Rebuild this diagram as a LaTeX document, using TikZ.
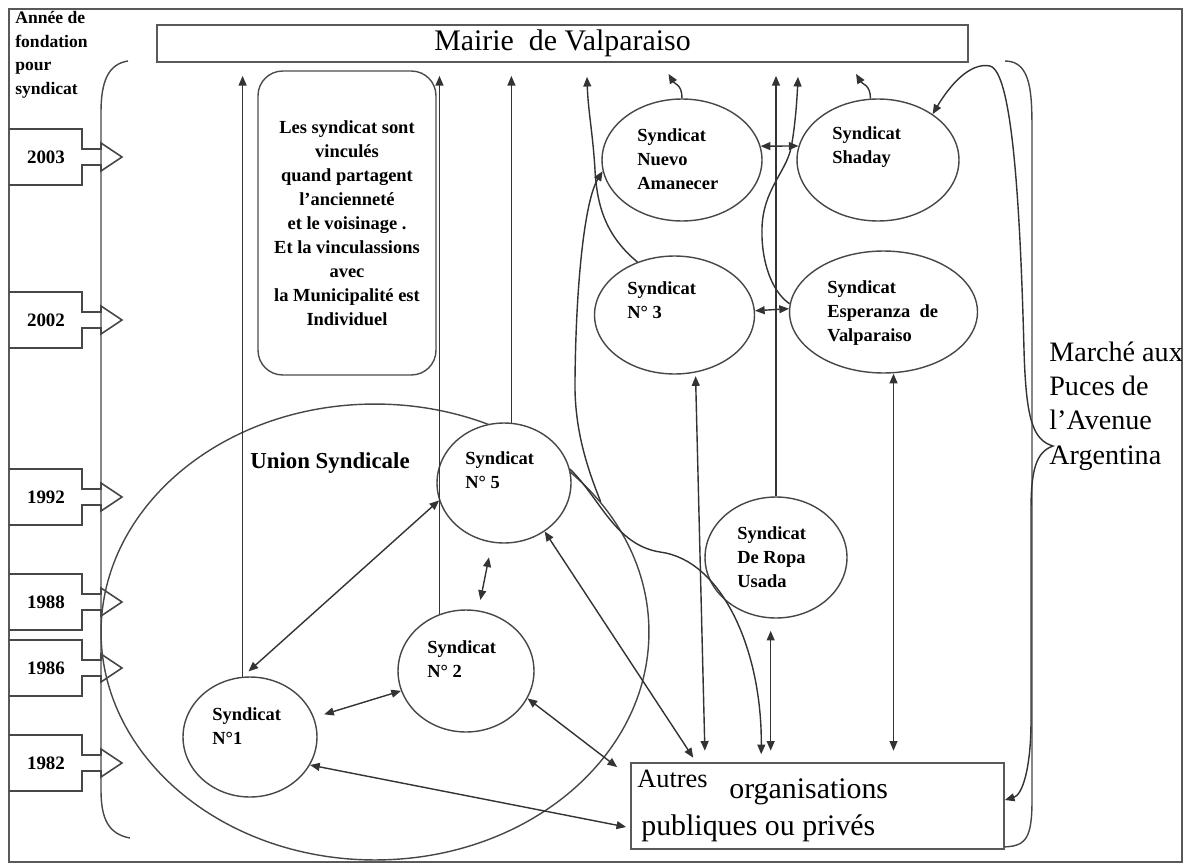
\documentclass[tikz,border=0pt]{standalone}
\usepackage{fontspec}
\setmainfont{Liberation Serif}
\usetikzlibrary{arrows.meta,calc,shapes.geometric}
\begin{document}
\begin{tikzpicture}[x=0.02cm,y=-0.02cm,
  ln/.style={draw=black!72, line width=0.8pt},
  conn/.style={draw=black!80, line width=0.8pt},
  >={Triangle[length=5.5pt,width=4.5pt]},
  syn/.style={ellipse, ln, fill=white, inner sep=0pt},
  lbl/.style={anchor=west, align=left, inner sep=0pt, font=\fontsize{10.5}{13.7}\selectfont\bfseries},
  yrlbl/.style={inner sep=0pt, font=\fontsize{10.8}{13}\selectfont\bfseries},
  callout/.style={draw=black!72, line width=0.9pt},
  upto/.style={conn, ->, shorten >=7.4pt},
]
\useasboundingbox (0,0) rectangle (1186,865);
\draw[draw=black!65, line width=1.5pt] (9,9) rectangle (1182,862);

% title text top-left
\node[anchor=west, align=left, inner sep=0pt, font=\fontsize{10}{13.4}\selectfont\bfseries] (annee) at (15,55) {Année de\\fondation\\pour\\syndicat};

% Mairie
\node[draw=black!65, line width=1pt, minimum width=16.22cm, minimum height=0.74cm, inner sep=0pt, font=\fontsize{17}{20}\selectfont] (mairie) at (562.5,43.5) {Mairie\ \ de Valparaiso};

% left brace
\draw[ln] (128,61) .. controls (108,64) and (101,82) .. (101,112) -- (101,790) .. controls (101,818) and (108,834) .. (130,838);

% year callouts
\foreach \yr/\c in {2003/157,2002/320,1992/497,1988/602,1986/668,1982/763}{
  \draw[callout] (9,{\c-28}) -- (82,{\c-28}) -- (82,{\c-8}) -- (101,{\c-8}) -- (101,{\c-14}) -- (122,\c) -- (101,{\c+14}) -- (101,{\c+8}) -- (82,{\c+8}) -- (82,{\c+28}) -- (9,{\c+28});
  \node[yrlbl] (y\yr) at (46,\c) {\yr};
}

% Union Syndicale
\node[ellipse, ln, minimum width=10.96cm, minimum height=9.12cm, inner sep=0pt] (union) at (375,632) {};
\node[inner sep=0pt, font=\fontsize{13}{15}\selectfont\bfseries] (unionlbl) at (330,463) {Union Syndicale};

% note box
\node[draw=black!70, line width=0.8pt, rounded corners=14pt, minimum width=3.56cm, minimum height=6.08cm, inner sep=0pt, align=center, font=\fontsize{10.5}{13.7}\selectfont\bfseries] (note) at (347,223) {Les syndicat sont\\vinculés\\quand partagent\\l’ancienneté\\et le voisinage .\\Et la vinculassions\\avec\\la Municipalité est\\Individuel};

% syndicat ellipses
\node[syn, minimum width=2.68cm, minimum height=2.4cm] (N1) at (250,737) {};
\node[lbl] (N1t) at (212,726) {Syndicat\\N°1};
\node[syn, minimum width=2.72cm, minimum height=2.44cm] (N2) at (466,671) {};
\node[lbl] (N2t) at (427,659) {Syndicat\\N° 2};
\node[syn, minimum width=2.68cm, minimum height=2.4cm] (N5) at (504,483) {};
\node[lbl] (N5t) at (465,470) {Syndicat\\N° 5};
\node[syn, minimum width=3.2cm, minimum height=2.44cm] (NA) at (682,160) {};
\node[lbl] (NAt) at (637,159) {Syndicat\\Nuevo\\Amanecer};
\node[syn, minimum width=3.24cm, minimum height=2.44cm] (Sh) at (878,160) {};
\node[lbl] (Sht) at (832,147) {Syndicat\\Shaday};
\node[syn, minimum width=3.2cm, minimum height=2.36cm] (N3) at (674.5,315) {};
\node[lbl] (N3t) at (627,300) {Syndicat\\N° 3};
\node[syn, minimum width=3.76cm, minimum height=2.44cm] (Esp) at (883.5,312) {};
\node[lbl] (Espt) at (827,313) {Syndicat\\Esperanza\ \ de\\Valparaiso};
\node[syn, minimum width=2.84cm, minimum height=2.42cm] (DR) at (776,557.5) {};
\node[lbl] (DRt) at (737,557) {Syndicat\\De Ropa\\Usada};

% Autres box
\node[draw=black!65, line width=1pt, minimum width=7.46cm, minimum height=1.72cm, inner sep=0pt] (autres) at (817.5,806) {};
\node[anchor=base west, inner sep=0pt, font=\fontsize{15}{18}\selectfont] (autres1) at (637,787) {Autres};
\node[anchor=base west, inner sep=0pt, font=\fontsize{17}{20}\selectfont] (autres2) at (729,798) {organisations};
\node[anchor=base west, inner sep=0pt, font=\fontsize{17}{20}\selectfont] (autres3) at (641,835) {publiques ou privés};

% Marché text (clipped by the frame)
\begin{scope}
\clip (9,9) rectangle (1181,862);
\node[anchor=west, align=left, inner sep=0pt, font=\fontsize{16}{19.5}\selectfont] (marche) at (1049,406) {Marché aux\\Puces de\\l’Avenue\\Argentina};
\end{scope}

% right bracket
\draw[ln] (1005,61) .. controls (1032,61) and (1032,95) .. (1032,135) -- (1032,800) .. controls (1032,838) and (1026,846) .. ($(autres.south east)+(0,-3)$);

% connectors to the Mairie
\draw[upto] (N1.97) -- (N1.97 |- mairie.south);
\draw[upto] (N2.115) -- (N2.115 |- mairie.south);
\draw[upto] (N5.83) -- (N5.83 |- mairie.south);
\draw[upto] (DR.north) -- (DR.north |- mairie.south);
\draw[conn,->] (N3.125) .. controls (605,235) and (597,205) .. (595,170) .. controls (593,135) and (588,110) .. ($(mairie.south)+(24.5,14)$);
\draw[conn,->] (NA.north) .. controls +(0,-14) and +(6,10) .. ($(mairie.south)+(106,11)$);
\draw[conn,->] (Sh.97) .. controls +(0,-14) and +(6,10) .. ($(mairie.south)+(293.5,11)$);
\draw[conn,->] (Esp.175) .. controls (772,292) and (761,262) .. (762,228) .. controls (763,190) and (786,172) .. (791,148) .. controls (795,128) and (797,100) .. ($(mairie.south)+(235.5,14)$);

% links between syndicats
\draw[conn,<->] (NA.10) -- (Sh.170);
\draw[conn,<->] (N3.3) -- (Esp.178);
\draw[conn,<->,shorten <=4.5pt] (N1.97) -- (N5.195);
\draw[conn,<->,shorten <=6pt] (N1) -- (N2);
\draw[conn,<->,shorten <=8.5pt,shorten >=6pt] (N5) -- (N2);

% links to other organisations
\draw[conn,<->] (N1.-25) -- ($(autres.west)+(-4,21)$);
\draw[conn,<->] (N2.-24) -- ($(autres.north west)+(-13,5)$);
\draw[conn,<->,shorten >=3pt] (N5.-50) -- ($(autres.north west)+(66,0)$);
\draw[conn,<->,shorten <=2pt,shorten >=6.5pt] (N3.290) -- ($(autres.north west)+(75,0)$);
\draw[conn,<->,shorten <=7pt,shorten >=6.5pt] (DR.265) -- (DR.265 |- autres.north);
\coordinate (espb) at ($(Esp.south)+(10,0)$);
\draw[conn,<->,shorten >=6.5pt] (espb) -- (espb |- autres.north);
\draw[conn,->,shorten >=4.5pt] (N5.12) .. controls (600,498) and (615,545) .. (660,552) .. controls (722,560) and (762,650) .. ($(autres.north west)+(131,0)$);
\draw[conn,->] (union.30) .. controls (588,470) and (574,430) .. (575,380) .. controls (576,280) and (585,200) .. (NA.188);
\draw[conn,<->] (Sh.40) .. controls (950,85) and (970,62) .. (990,66) .. controls (1012,72) and (1020,200) .. (1024,350) .. controls (1026,420) and (1033,440) .. (1053,446) .. controls (1036,452) and (1031,470) .. (1031,510) -- (1031,720) .. controls (1031,770) and (1022,795) .. ($(autres.east)+(0,-6)$);
\end{tikzpicture}
\end{document}
